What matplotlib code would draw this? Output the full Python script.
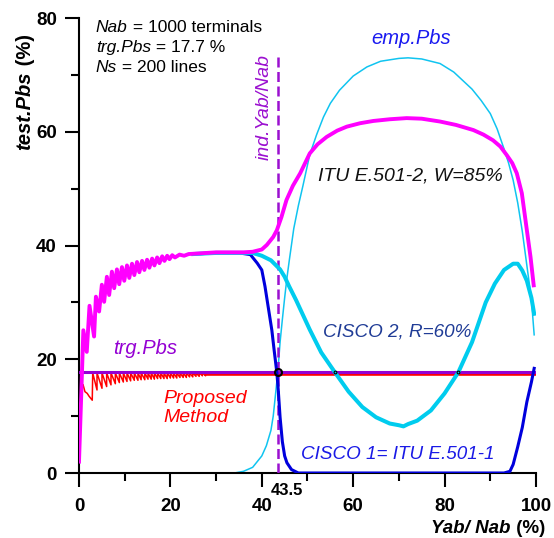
import matplotlib
matplotlib.use("Agg")
import matplotlib.pyplot as plt

plt.rcParams['font.family'] = ['Liberation Sans', 'DejaVu Sans']

# --- данні ---
trg_pbs = 17.7
ind_x = 43.5
ind_top = 73.5

# emp.Pbs (тонка блакитна)
emp_x = [0, 34, 36, 38, 40, 41, 42, 42.5, 43, 43.5, 44, 44.5, 45, 45.5, 46, 47, 48, 49, 50.5,
         52, 53.5, 55, 57, 60, 63, 66, 70, 72, 75, 79, 82, 86, 88, 90, 91.5, 93, 94, 95, 96,
         97, 98, 99, 99.6]
emp_y = [0, 0, 0.3, 1.0, 3.0, 4.8, 7.5, 10.0, 13.8, 17.7, 23.0, 27.0, 30.8, 34.3, 37.3, 43.0,
         47.0, 50.5, 56.0, 59.5, 62.6, 65.0, 67.3, 69.8, 71.4, 72.4, 72.9, 73.0, 72.8, 72.0,
         70.5, 67.5, 65.5, 63.2, 60.5, 57.0, 54.5, 51.5, 47.5, 42.5, 36.5, 30.5, 24.3]

# ITU E.501-2, W=85% (пурпурна)
mag_x = [0, 0.5, 0.95, 1.7, 2.3, 3.3, 3.7, 4.4, 5.0, 5.5, 6.1, 6.6, 7.2, 7.7, 8.3, 8.8, 9.4, 9.9,
         10.5, 11.0, 11.6, 12.1, 12.7, 13.2, 13.8, 14.3, 14.9, 15.4, 16.0, 16.5, 17.1, 17.6,
         18.2, 18.7, 19.3, 19.8, 20.4, 21.0, 22, 23, 24, 26, 28, 30, 33, 36, 38, 40, 41.1,
         42.5, 43.3, 44.3, 45.4, 46.8, 48.4, 50.5, 52.2, 54.2, 56.5, 58.6, 61.5, 64.4, 68,
         71.7, 75, 79, 82.5, 86.3, 88.5, 90.6, 92.2, 93.6, 94.8, 95.8, 96.9, 98.0, 98.8, 99.5]
mag_y = [2, 14, 25.1, 21.3, 29.4, 24.0, 31.0, 28.4, 33.1, 30.1, 34.5, 31.3, 35.4, 32.5, 35.8,
         33.2, 36.2, 33.8, 36.5, 34.3, 36.8, 34.8, 37.1, 35.3, 37.3, 35.7, 37.5, 36.1, 37.7,
         36.5, 37.9, 36.9, 38.1, 37.3, 38.2, 37.6, 38.3, 37.9, 38.4, 38.2, 38.5, 38.6, 38.7,
         38.8, 38.8, 38.8, 38.9, 39.3, 40.1, 41.5, 42.7, 45.0, 48.0, 50.5, 52.7, 56.2, 57.8,
         59.1, 60.2, 60.9, 61.5, 61.9, 62.2, 62.4, 62.3, 61.8, 61.2, 60.3, 59.5, 58.5, 57.4,
         55.9, 54.5, 52.7, 49.2, 42.7, 38.0, 33.0]

# CISCO 2, R=60% (товста блакитна)
cis2_x = [25, 30, 35, 38, 40, 42, 44, 45, 46, 47.5, 50.5, 53, 56, 59, 62, 65, 68, 70, 71, 72,
          74, 77, 80, 83, 86, 89, 91, 93, 95, 96, 97, 98, 99, 99.6]
cis2_y = [38.5, 38.7, 38.7, 38.7, 38.2, 37.4, 35.8, 34.5, 32.8, 30.4, 25.2, 21.2, 17.7, 14.3,
          11.6, 9.8, 8.7, 8.4, 8.2, 8.6, 9.2, 11.0, 14.0, 17.7, 23.0, 30.0, 33.3, 35.7, 36.8,
          36.8, 35.6, 33.8, 30.8, 28.0]

# CISCO 1 = ITU E.501-1 (синя)
cis1_x = [25, 30, 35, 37.5, 38, 39, 40, 40.7, 41.4, 42.2, 42.7, 43.3, 43.6, 44, 44.5, 45, 45.5,
          46.5, 48, 93, 94.3, 95, 96, 97, 98, 99, 99.6]
cis1_y = [38.5, 38.7, 38.7, 38.4, 37.9, 36.9, 35.7, 32.8, 29.2, 25.1, 21.6, 17.6, 14.6, 9.8,
          5.5, 3.0, 1.8, 0.6, 0, 0, 0.3, 1.5, 4.6, 8.0, 12.5, 16.0, 18.4]

# Proposed Method (червона пилка)
red_head_x = [0.9, 1.3, 1.8, 2.2, 2.9]
red_head_y = [15.5, 14.3, 14.0, 13.5, 12.8]
red_jump_x = [3.0, 3.94, 5.03, 6.05, 7.0, 7.95, 8.83, 9.7, 10.5, 11.3, 12.1, 12.9, 13.6, 14.4,
              15.1, 15.8, 16.5, 17.2, 17.9, 18.6, 19.3, 20.0, 20.7, 21.4, 22.1, 22.8, 23.5,
              24.2, 24.9, 25.6, 26.3, 27.0, 27.7]
red_low = [14.6, 14.9, 15.2, 15.5, 15.7, 15.9, 16.0, 16.1, 16.2, 16.3, 16.3, 16.4, 16.4, 16.5,
           16.5, 16.5, 16.6, 16.6, 16.6, 16.6, 16.7, 16.7, 16.7, 16.8, 16.8, 16.8, 16.9, 16.9,
           17.0, 17.0, 17.1, 17.1]
red_top = 17.6
red_tail_x = [27.7, 100]
red_tail_y = [17.35, 17.35]

# точки перетину з trg.Pbs
cross_x = [43.5, 56, 83]
cross_y = [17.7, 17.7, 17.7]

# --- побудова ---
fig = plt.figure(figsize=(5.54, 5.38), dpi=100)
ax = fig.add_axes([0.1426, 0.1208, 0.8249, 0.8457])

# червона пилка
rx = list(red_head_x)
ry = list(red_head_y)
for i in range(len(red_low)):
    rx += [red_jump_x[i], red_jump_x[i + 1]]
    ry += [red_top, red_low[i]]
rx.append(red_jump_x[-1])
ry.append(red_top)
ax.plot(rx, ry, color='#FF0000', lw=1.1, zorder=3)
ax.plot(red_tail_x, red_tail_y, color='#FF0000', lw=2.6, zorder=3)

ax.axhline(trg_pbs, color='#9400D3', lw=2.2, zorder=3.5)
ax.plot(emp_x, emp_y, color='#10C4F0', lw=1.1, zorder=2)
ax.plot([ind_x, ind_x], [0, ind_top], color='#9B10D0', lw=1.8, dashes=(4, 1.8), zorder=3.8)
ax.plot(cis1_x, cis1_y, color='#0000DD', lw=2.2, zorder=4)
ax.plot(cis2_x, cis2_y, color='#00CCEE', lw=2.9, zorder=4.5)
ax.plot(mag_x, mag_y, color='#FF00FF', lw=2.8, zorder=5)
ax.plot(cross_x[:1], cross_y[:1], 'o', ms=5, mfc='none', mec='black', mew=1.5, zorder=6)
ax.plot(cross_x[1:], cross_y[1:], 'o', ms=2, mfc='none', mec='black', mew=0.8, zorder=6)

ax.set_xlim(0, 100)
ax.set_ylim(0, 80)
ax.set_xticks([0, 20, 40, 60, 80, 100])
ax.set_xticks([10, 30, 50, 70, 90], minor=True)
ax.set_yticks([0, 20, 40, 60, 80])
ax.set_yticks([10, 30, 50, 70], minor=True)
ax.spines['top'].set_visible(False)
ax.spines['right'].set_visible(False)
for s in ['left', 'bottom']:
    ax.spines[s].set_linewidth(1.5)
ax.tick_params(which='major', length=10, width=1.5, direction='out', labelsize=13.5)
ax.tick_params(which='minor', length=5.5, width=1.5, direction='out')
ax.tick_params(axis='x', which='major', pad=8)
ax.tick_params(axis='y', which='major', pad=6)
for lab in ax.get_xticklabels() + ax.get_yticklabels():
    lab.set_fontweight('bold')

# підписи осей
t1 = ax.text(-0.118, 0.71, 'test.Pbs', transform=ax.transAxes, rotation=90, fontsize=14.5,
             fontweight='bold', style='italic', ha='center', va='bottom')
ax.annotate(' (%)', xy=(0.5, 1), xycoords=t1, rotation=90, fontsize=14.5, fontweight='bold',
            ha='center', va='bottom')
t2 = ax.text(1.0197, -0.132, ' (%)', transform=ax.transAxes, fontsize=13.5, fontweight='bold',
             ha='right', va='baseline')
ax.annotate('Yab/ Nab', xy=(0, 0), xycoords=t2, fontsize=13.5, fontweight='bold',
            style='italic', ha='right', va='bottom')

# параметри
for yy, a, b in [(77.5, 'Nab', ' = 1000 terminals'), (74.0, 'trg.Pbs', ' = 17.7 %'),
                 (70.5, 'Ns', ' = 200 lines')]:
    t = ax.text(3.7, yy, a, style='italic', fontsize=12.5, va='baseline')
    ax.annotate(b, xy=(1, 0), xycoords=t, fontsize=12.5, va='bottom', ha='left')

ax.text(40.5, 64.4, 'ind.Yab/Nab', rotation=90, color='#9B10D0', style='italic', fontsize=14,
        ha='center', va='center')
ax.text(72.7, 75.4, 'emp.Pbs', color='#1A1AF0', style='italic', fontsize=14.5, ha='center')
ax.text(72.5, 51.5, 'ITU E.501-2, W=85%', color='#111111', style='italic', fontsize=14,
        ha='center')
ax.text(69.7, 24.0, 'CISCO 2, R=60%', color='#203C96', style='italic', fontsize=13.6,
        ha='center')
ax.text(69.7, 2.5, 'CISCO 1= ITU E.501-1', color='#1A1AE6', style='italic', fontsize=13.6,
        ha='center')
ax.text(14.4, 20.9, 'trg.Pbs', color='#9400D3', style='italic', fontsize=14.5, ha='center')
ax.text(18.4, 9.0, 'Proposed\nMethod', color='#FF0000', style='italic', fontsize=14,
        ha='left', va='baseline', linespacing=1.12)
ax.text(42.0, -3.9, '43.5', fontweight='bold', fontsize=12, ha='left', clip_on=False)

fig.savefig('out.png', dpi=100)
